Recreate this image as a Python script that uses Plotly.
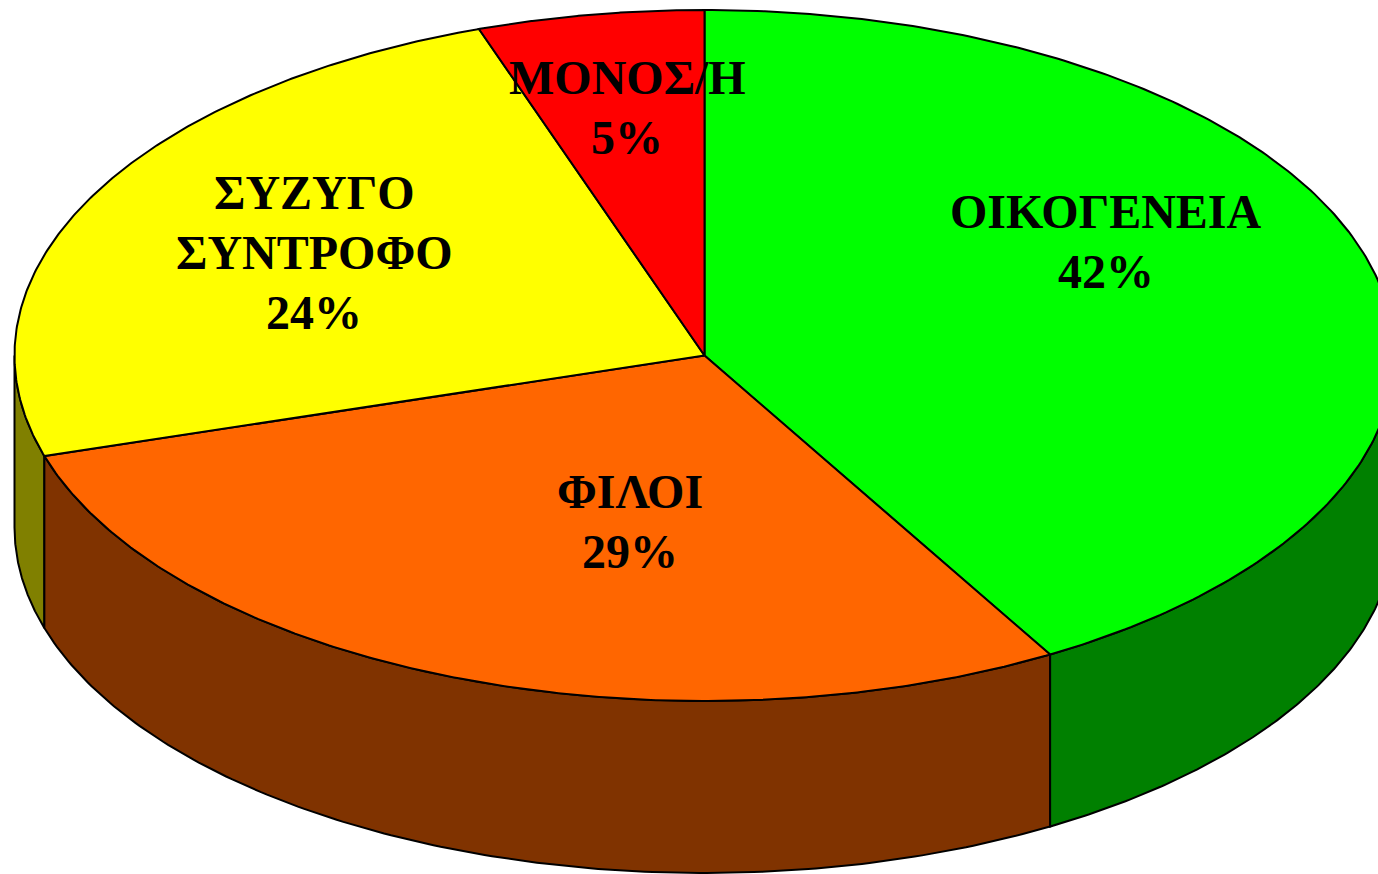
import numpy as np
import plotly.graph_objects as go

categories = ["ΟΙΚΟΓΕΝΕΙΑ", "ΦΙΛΟΙ", "ΣΥΖΥΓΟ<br>ΣΥΝΤΡΟΦΟ", "ΜΟΝΟΣ/Η"]
shares = [41.65, 28.65, 24.4, 5.3]
top_colors = ["#00FF00", "#FF6600", "#FFFF00", "#FF0000"]
side_colors = ["#008000", "#803300", "#808000", "#800000"]

W, H = 1378, 874
CX, CY, RX, RY, DEPTH = 704.5, 355.5, 690, 345.5, 172
FONT = dict(family="Liberation Serif", size=48, color="black")
LABEL_X = [1106, 630, 314, 627]
LABEL_Y = [211, 491, 192, 77]
LINE_STEP = 60


def ellipse(deg, dy=0.0):
    t = np.radians(deg)
    return CX + RX * np.sin(t), CY + RY * -np.cos(t) + dy


fig = go.Figure()
edges = np.concatenate([[0], np.cumsum(shares) / sum(shares) * 360])
line = dict(color="black", width=2)

# walls (only the front half of the rim can be seen)
for i in [2, 1, 0]:
    a, b = max(edges[i], 90), min(edges[i + 1], 270)
    if a >= b:
        continue
    th = np.linspace(a, b, 160)
    x1, y1 = ellipse(th)
    x2, y2 = ellipse(th[::-1], DEPTH)
    fig.add_trace(go.Scatter(
        x=np.r_[x1, x2, x1[0]], y=np.r_[y1, y2, y1[0]], mode="lines",
        fill="toself", fillcolor=side_colors[i], line=line, hoverinfo="skip"))

# top faces
for i in range(len(shares)):
    th = np.linspace(edges[i], edges[i + 1], 240)
    x, y = ellipse(th)
    fig.add_trace(go.Scatter(
        x=np.r_[CX, x, CX], y=np.r_[CY, y, CY], mode="lines",
        fill="toself", fillcolor=top_colors[i], line=line,
        name=categories[i].replace("<br>", " "), hoverinfo="name"))

# labels
for name, share, lx, ly in zip(categories, shares, LABEL_X, LABEL_Y):
    lines = name.split("<br>") + [f"{round(share)}%"]
    for k, txt in enumerate(lines):
        fig.add_annotation(x=lx, y=ly + k * LINE_STEP, text=f"<b>{txt}</b>",
                           showarrow=False, font=FONT, xanchor="center", yanchor="middle")

fig.update_layout(
    width=W, height=H, margin=dict(l=0, r=0, t=0, b=0), showlegend=False,
    paper_bgcolor="white", plot_bgcolor="white",
    xaxis=dict(range=[0, W], visible=False, fixedrange=True),
    yaxis=dict(range=[H, 0], visible=False, fixedrange=True),
)
fig.write_html("out.html", config={"displayModeBar": False},
               post_script="document.body.style.margin='0';")
